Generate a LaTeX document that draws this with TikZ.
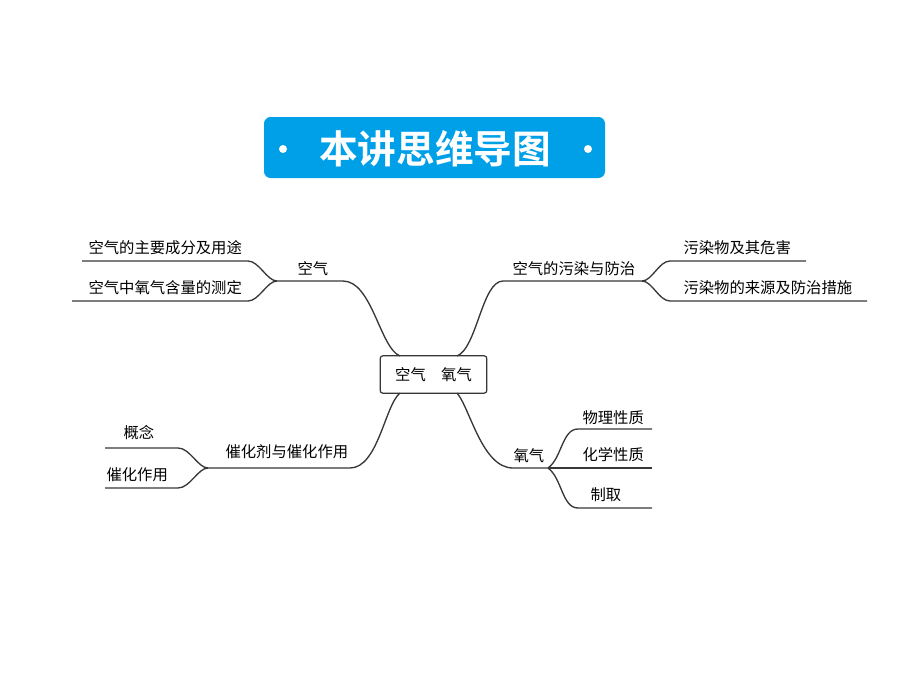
\documentclass[tikz,border=0pt]{standalone}
\usepackage{fontspec}
\newfontfamily\cjk{Noto Sans CJK SC}[BoldFont={* Bold}]
\definecolor{titleblue}{RGB}{0,160,233}
\definecolor{branchgray}{RGB}{55,55,55}
\tikzset{every picture/.style={line width=0.75pt}}
\tikzset{
  branch/.style={color=branchgray, line width=1pt},
  lbl/.style={anchor=west, inner sep=0.75pt, font=\cjk\fontsize{11.5}{13}\selectfont},
}

\begin{document}
\begin{tikzpicture}[x=0.75pt,y=0.75pt,yscale=-1,xscale=1]
\useasboundingbox (0,0) rectangle (920,690); %set diagram to 920 x 690

%Shape: Rounded Rect [id:title box]
\draw [fill=titleblue, draw=none, rounded corners=5pt] (264,117) rectangle (605,178);
\fill [white] (283,149) circle (4) (588,149) circle (4);
% Text Node
\node [inner sep=0.75pt, text=white, font=\cjk\bfseries\fontsize{29}{32}\selectfont] (title) at (435,149) {本讲思维导图};

%Shape: Rounded Rect [id:root]
\node [draw=branchgray, line width=0.9pt, rounded corners=2pt, minimum width=80pt, minimum height=28pt, inner sep=0pt, font=\cjk\fontsize{11.5}{13}\selectfont] (root) at (433.5,374.5) {空气　氧气};

% end points of the branches
\coordinate (rootNW) at (400,356);
\coordinate (rootNE) at (457,356);
\coordinate (rootSW) at (400,393);
\coordinate (rootSE) at (457,393);
\coordinate (kqJ) at (277,281);   \coordinate (kqE) at (343,281);
\coordinate (wrJ) at (642,281);   \coordinate (wrE) at (503,281);
\coordinate (chJ) at (208,468);   \coordinate (chE) at (350,468);
\coordinate (yqJ) at (548,468);   \coordinate (yqE) at (513,468);
\coordinate (cf1) at (248,261);   \coordinate (cf2) at (82,261);
\coordinate (cd1) at (248,301);   \coordinate (cd2) at (72,301);
\coordinate (wh1) at (670,261);   \coordinate (wh2) at (806,261);
\coordinate (ly1) at (670,301);   \coordinate (ly2) at (867,301);
\coordinate (gn1) at (178,448);   \coordinate (gn2) at (105,448);
\coordinate (zy1) at (178,488);   \coordinate (zy2) at (105,488);
\coordinate (wl1) at (578,429);   \coordinate (wl2) at (652,429);
\coordinate (hx2) at (652,468);
\coordinate (zq1) at (578,508);   \coordinate (zq2) at (652,508);

%Curve Lines [id:main branches]
\draw [branch] (rootNW) .. controls (380,348) and (372,281) .. (kqE) -- (kqJ);
\draw [branch] (rootNE) .. controls (477,348) and (482,281) .. (wrE) -- (wrJ);
\draw [branch] (rootSW) .. controls (385,405) and (378,468) .. (chE) -- (chJ);
\draw [branch] (rootSE) .. controls (470,408) and (482,468) .. (yqE) -- (yqJ);

%Curve Lines [id:sub branches]
\draw [branch] (kqJ) .. controls (267,281) and (259,261) .. (cf1) -- (cf2);
\draw [branch] (kqJ) .. controls (267,281) and (259,301) .. (cd1) -- (cd2);
\draw [branch] (wrJ) .. controls (652,281) and (659,261) .. (wh1) -- (wh2);
\draw [branch] (wrJ) .. controls (652,281) and (659,301) .. (ly1) -- (ly2);
\draw [branch] (chJ) .. controls (198,468) and (190,448) .. (gn1) -- (gn2);
\draw [branch] (chJ) .. controls (198,468) and (190,488) .. (zy1) -- (zy2);
\draw [branch] (yqJ) .. controls (562,458) and (562,429) .. (wl1) -- (wl2);
\draw [branch] (yqJ) -- (hx2);
\draw [branch] (yqJ) .. controls (562,478) and (562,508) .. (zq1) -- (zq2);

% Text Node
\node [lbl] (kq) at (296,269) {空气};
% Text Node
\node [lbl] (cf) at (87,248) {空气的主要成分及用途};
% Text Node
\node [lbl] (cd) at (87,288) {空气中氧气含量的测定};
% Text Node
\node [lbl] (wr) at (511,269) {空气的污染与防治};
% Text Node
\node [lbl] (wh) at (682,248) {污染物及其危害};
% Text Node
\node [lbl] (ly) at (682,288) {污染物的来源及防治措施};
% Text Node
\node [lbl] (ch) at (224,452) {催化剂与催化作用};
% Text Node
\node [lbl] (gn) at (122,433) {概念};
% Text Node
\node [lbl] (zy) at (105,475) {催化作用};
% Text Node
\node [lbl] (yq) at (512,456) {氧气};
% Text Node
\node [lbl] (wl) at (581,418) {物理性质};
% Text Node
\node [lbl] (hx) at (581,455) {化学性质};
% Text Node
\node [lbl] (zq) at (589,495) {制取};
\end{tikzpicture}
\end{document}
